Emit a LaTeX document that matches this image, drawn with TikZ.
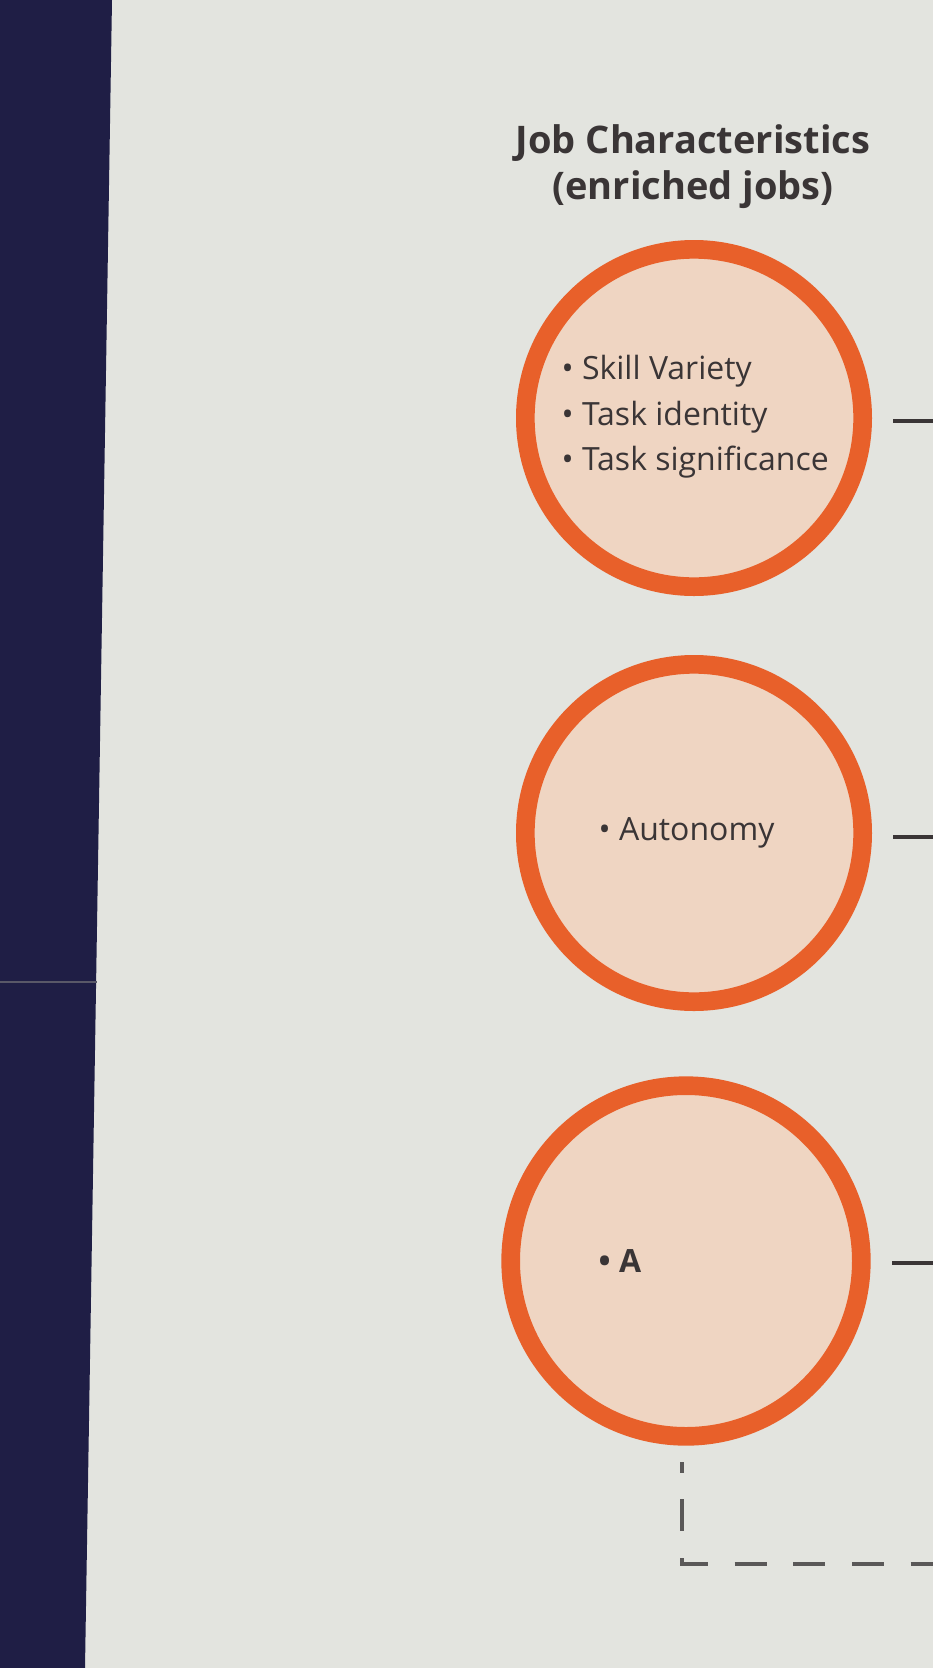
\documentclass[tikz,border=0pt]{standalone}
\usepackage{fontspec}
\setmainfont{Open Sans}
\definecolor{bgc}{HTML}{E3E4DF}
\definecolor{navy}{HTML}{1F1E45}
\definecolor{ring}{HTML}{E8602A}
\definecolor{peach}{HTML}{EFD5C2}
\definecolor{txt}{HTML}{3A3536}
\definecolor{dashc}{HTML}{5A5858}
\tikzset{
  jcircle/.style={circle, draw=ring, fill=peach, line width=14pt, minimum size=#1, inner sep=0pt},
  bullets/.style={text=txt, align=left, font=\fontsize{24}{34}\selectfont},
  titletext/.style={text=txt, align=center, font=\fontsize{28.5}{34.5}\selectfont\bfseries},
  stub/.style={draw=txt, line width=2.8pt},
  dashline/.style={draw=dashc, line width=3.5pt, dash pattern=on 24pt off 20pt, dash phase=16pt}
}
\begin{document}
\begin{tikzpicture}[x=0.75pt,y=-0.75pt]
\useasboundingbox (0,0) rectangle (933,1668);
\fill[bgc] (0,0) rectangle (933,1668);
\fill[navy] (0,0) -- (112,0) -- (85,1668) -- (0,1668) -- cycle;
\draw[gray!60!navy, line width=1pt] (0,982) -- (97,982);
\node[titletext] (title) at (693,167) {Job Characteristics\\(enriched jobs)};
\node[jcircle=253pt] (c1) at (694,418) {};
\node[jcircle=253pt] (c2) at (694,833) {};
\node[jcircle=263pt] (c3) at (686,1261) {};
\node[bullets, anchor=west] (t1) at (557,417) {• Skill Variety\\• Task identity\\• Task significance};
\node[bullets, anchor=west] (t2) at (594,833) {• Autonomy};
\node[bullets, anchor=west, font=\fontsize{24}{34}\selectfont\bfseries] (t3) at (594,1261) {• A};
\coordinate (e1) at (933,421);
\coordinate (e2) at (933,837);
\coordinate (e3) at (933,1263);
\draw[stub] ([xshift=16pt]c1.east |- e1) -- (e1);
\draw[stub] ([xshift=16pt]c2.east |- e2) -- (e2);
\draw[stub] ([xshift=16pt]c3.east |- e3) -- (e3);
\coordinate (d1) at (682,1462);
\coordinate (d2) at (682,1564);
\coordinate (d3) at (933,1564);
\draw[dashline] (d1) -- (d2) -- (d3);
\end{tikzpicture}
\end{document}
